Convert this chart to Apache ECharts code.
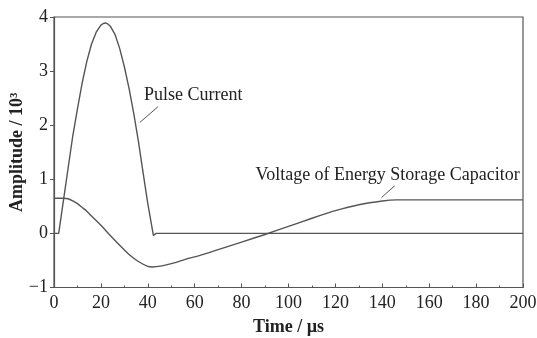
<!DOCTYPE html>
<html>
<head>
<meta charset="utf-8">
<script src="https://cdn.jsdelivr.net/npm/echarts@6/dist/echarts.min.js"></script>
<style>
  html, body { margin: 0; padding: 0; background: #fff; }
  #main { width: 537px; height: 338px; }
</style>
</head>
<body>
<div id="main"></div>
<script>
// time / us and amplitude / 10^3
var pulseTime = [0, 2, 4, 6, 8, 10, 12, 14, 16, 18, 20, 21, 22, 23, 24, 26, 28, 30, 32, 34, 36, 38, 40, 42.4, 43.5, 200];
var pulseVal  = [0, 0, 0.6, 1.2, 1.8, 2.3, 2.78, 3.18, 3.5, 3.72, 3.85, 3.88, 3.89, 3.87, 3.83, 3.68, 3.42, 3.08, 2.68, 2.22, 1.7, 1.12, 0.55, -0.04, 0, 0];

var voltTime = [0, 4, 6, 8, 10, 12, 14, 16, 20, 24, 28, 32, 36, 40, 42, 46, 50, 56, 62, 70, 80, 90, 100, 110, 120, 130, 140, 146, 200];
var voltVal  = [0.65, 0.65, 0.64, 0.6, 0.55, 0.48, 0.41, 0.32, 0.15, -0.04, -0.22, -0.39, -0.52, -0.61, -0.62, -0.6, -0.56, -0.48, -0.41, -0.3, -0.16, -0.02, 0.13, 0.28, 0.42, 0.53, 0.6, 0.62, 0.62];

var xTicks = [0, 20, 40, 60, 80, 100, 120, 140, 160, 180, 200];
var yTicks = [-1, 0, 1, 2, 3, 4];

var pulseData = pulseTime.map(function (t, i) { return [t, pulseVal[i]]; });
var voltData = voltTime.map(function (t, i) { return [t, voltVal[i]]; });

var font = '"Liberation Serif", "DejaVu Serif", serif';
var ink = '#222';
var lineCol = '#555';

var chart = echarts.init(document.getElementById('main'));

var option = {
  animation: false,
  grid: {
    left: 54, right: 14, top: 17, bottom: 50.5,
    outerBoundsMode: 'none', containLabel: false,
    show: true, borderColor: lineCol, borderWidth: 1.2, backgroundColor: 'transparent'
  },
  xAxis: {
    type: 'value',
    min: xTicks[0], max: xTicks[xTicks.length - 1], interval: 20,
    name: 'Time / µs',
    nameLocation: 'middle', nameGap: 31,
    nameTextStyle: { fontFamily: font, fontSize: 18, fontWeight: 'bold', color: ink },
    axisLine: { show: true, onZero: false, lineStyle: { color: lineCol, width: 1.2 } },
    axisTick: { show: true, inside: true, length: 4, lineStyle: { color: lineCol } },
    minorTick: { show: true, splitNumber: 2, length: 2, lineStyle: { color: lineCol } },
    splitLine: { show: false },
    axisLabel: { fontFamily: font, fontSize: 18, color: ink, margin: 7 }
  },
  yAxis: {
    type: 'value',
    min: yTicks[0], max: yTicks[yTicks.length - 1], interval: 1,
    name: 'Amplitude / 10³',
    nameLocation: 'middle', nameGap: 28, nameMoveOverlap: false,
    nameTextStyle: { fontFamily: font, fontSize: 18, fontWeight: 'bold', color: ink },
    axisLine: { show: true, onZero: false, lineStyle: { color: lineCol, width: 1.2 } },
    axisTick: { show: true, inside: false, length: 4, lineStyle: { color: lineCol } },
    splitLine: { show: false },
    axisLabel: {
      fontFamily: font, fontSize: 18, color: ink, margin: 6,
      formatter: function (v) { return String(v).replace('-', '−'); }
    }
  },
  series: [
    {
      name: 'Pulse Current', type: 'line', data: pulseData,
      showSymbol: false,
      lineStyle: { color: lineCol, width: 1.4 }
    },
    {
      name: 'Voltage of Energy Storage Capacitor', type: 'line', data: voltData,
      showSymbol: false, smooth: 0.2,
      lineStyle: { color: lineCol, width: 1.4 }
    }
  ]
};
chart.setOption(option);

// labels with leader lines, placed in data coords
var notes = [
  { text: 'Pulse Current', at: [38.4, 2.55], align: 'left', from: [36.6, 2.05], to: [44.3, 2.34] },
  { text: 'Voltage of Energy Storage Capacitor', at: [198.6, 1.07], align: 'right', from: [139.7, 0.665], to: [145.3, 0.88] }
];
var g = [];
notes.forEach(function (n) {
  var p = chart.convertToPixel({ gridIndex: 0 }, n.at);
  var a = chart.convertToPixel({ gridIndex: 0 }, n.from);
  var b = chart.convertToPixel({ gridIndex: 0 }, n.to);
  g.push({
    type: 'text', x: p[0], y: p[1],
    style: { text: n.text, font: '18px ' + font, fill: ink, align: n.align, verticalAlign: 'middle' }
  });
  g.push({
    type: 'line', shape: { x1: a[0], y1: a[1], x2: b[0], y2: b[1] },
    style: { stroke: lineCol, lineWidth: 1 }
  });
});
chart.setOption({ graphic: g });
</script>
</body>
</html>
